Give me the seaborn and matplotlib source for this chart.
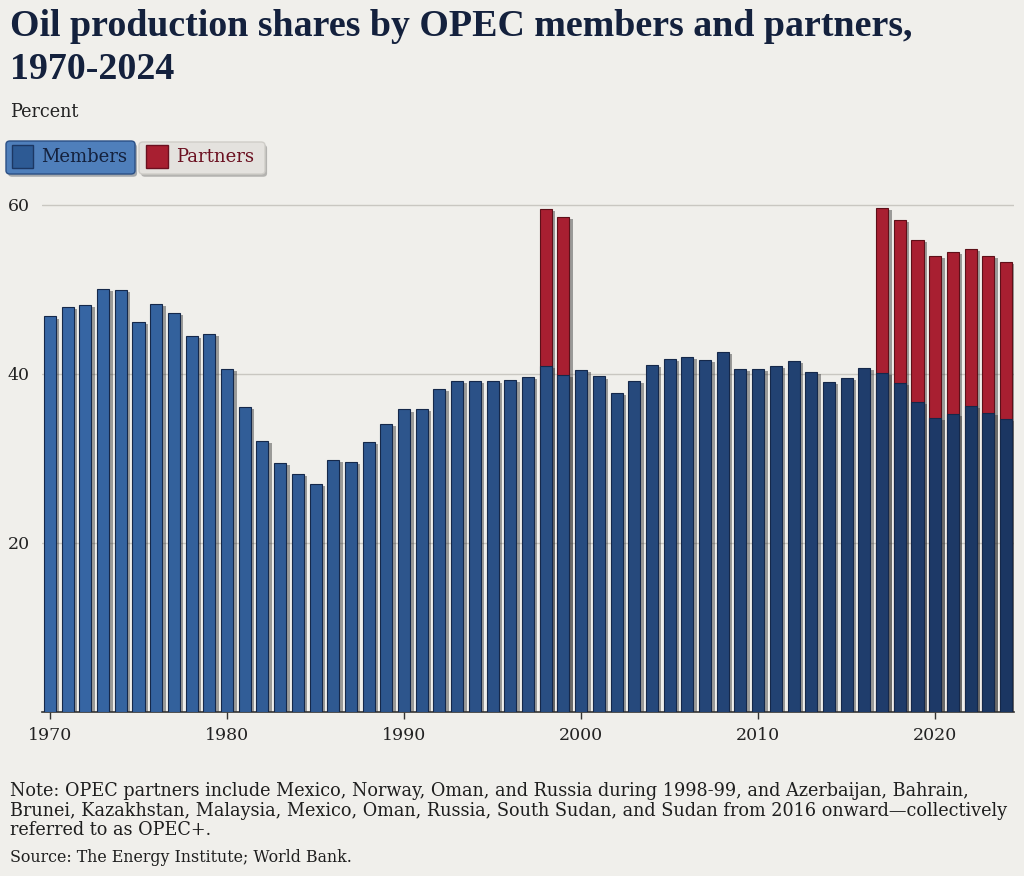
import numpy as np
import pandas as pd
import seaborn as sns
import matplotlib.pyplot as plt
from matplotlib.patches import FancyBboxPatch, Rectangle
import matplotlib.patheffects as pe

# data (percent of world oil production)
years = list(range(1970, 2025))
members = [46.8, 47.9, 48.2, 50.1, 49.9, 46.2, 48.3, 47.2, 44.5, 44.7,
           40.6, 36.1, 32.1, 29.5, 28.2, 27.0, 29.8, 29.6, 31.9, 34.1,
           35.8, 35.9, 38.2, 39.2, 39.2, 39.2, 39.3, 39.6, 40.9, 39.9,
           40.5, 39.7, 37.8, 39.2, 41.1, 41.8, 42.0, 41.6, 42.6, 40.6,
           40.6, 40.9, 41.5, 40.2, 39.1, 39.5, 40.7, 40.1, 38.9, 36.7,
           34.8, 35.3, 36.2, 35.4, 34.7]
partners = [0.0] * 28 + [18.6, 18.7] + [0.0] * 17 + [19.5, 19.3, 19.2, 19.2, 19.1, 18.6, 18.6, 18.6]

title = "Oil production shares by OPEC members and partners,\n1970-2024"
note = ("Note: OPEC partners include Mexico, Norway, Oman, and Russia during 1998-99, and Azerbaijan, Bahrain,\n"
        "Brunei, Kazakhstan, Malaysia, Mexico, Oman, Russia, South Sudan, and Sudan from 2016 onward\u2014collectively\n"
        "referred to as OPEC+.")
source = "Source: The Energy Institute; World Bank."

df = pd.DataFrame({"year": years, "members": members, "partners": partners})
df["total"] = df["members"] + df["partners"]
df["yr"] = df["year"].astype(str)

BG = "#f0efeb"
BLUE_L, BLUE_D = "#3767a5", "#1b3662"
RED = "#a81f31"
W, H = 1024, 876

sns.set_theme(style="white")
plt.rcParams["font.family"] = ["DejaVu Serif", "DejaVu Sans"]

fig = plt.figure(figsize=(W / 100, H / 100), dpi=100, facecolor=BG)
ax = fig.add_axes([42 / W, 1 - 712 / H, (1014 - 42) / W, (712 - 188) / H])
ax.set_facecolor(BG)

shadow = [pe.withSimplePatchShadow(offset=(2.5, -1.5), shadow_rgbFace="#333333", alpha=0.45)]

# partners stacked on top of members: draw totals first, members over them
sub = df[df["partners"] > 0]
sns.barplot(data=sub, x="year", y="total", native_scale=True, width=0.68, saturation=1,
            color=RED, edgecolor="#5e0f18", linewidth=0.8, ax=ax, zorder=2)
blues = sns.blend_palette([BLUE_L, BLUE_D], n_colors=len(df))
sns.barplot(data=df, x="year", y="members", hue="yr", palette=blues, legend=False,
            native_scale=True, width=0.68, saturation=1, edgecolor="#15284a", linewidth=0.8,
            ax=ax, zorder=3)
for p in ax.patches:
    p.set_path_effects(shadow)

ax.set_xlim(1969.55, 2024.45)
ax.set_ylim(0, 62)
ax.set_yticks([20, 40, 60])
ax.set_xticks(range(1970, 2021, 10))
ax.yaxis.grid(True, color="#c9c7c1", linewidth=1.0)
ax.set_axisbelow(True)
ax.set_xlabel("")
ax.set_ylabel("")
for s in ["top", "right", "left"]:
    ax.spines[s].set_visible(False)
ax.spines["bottom"].set_color("#333333")
ax.spines["bottom"].set_linewidth(1.2)
ax.tick_params(axis="y", length=0, pad=9, labelsize=12.5, labelcolor="#222222")
ax.tick_params(axis="x", length=5, width=1, color="#333333", pad=6,
               labelsize=12.5, labelcolor="#222222", bottom=True)

# texts
fig.text(10 / W, 1 - 9 / H, title, ha="left", va="top", fontsize=27.3,
         fontweight="bold", color="#14213d", linespacing=1.3,
         family=["Liberation Serif", "DejaVu Serif"])
fig.text(10 / W, 1 - 112 / H, "Percent", ha="left", va="center", fontsize=12.7, color="#222222")
fig.text(10 / W, 1 - 782 / H, note, ha="left", va="top", fontsize=12.7,
         color="#1e1e1e", linespacing=1.12)
fig.text(10 / W, 1 - 857 / H, source, ha="left", va="center", fontsize=11.4, color="#1e1e1e")


# legend boxes
def fbox(x0, y0, x1, y1, fc, ec, rad=4, z=5):
    b = FancyBboxPatch((x0 / W, 1 - y1 / H), (x1 - x0) / W, (y1 - y0) / H,
                       boxstyle=f"round,pad=0,rounding_size={rad / W}",
                       transform=fig.transFigure, fc=fc, ec=ec, lw=1, zorder=z,
                       path_effects=[pe.withSimplePatchShadow(offset=(1.5, -2), alpha=0.35)])
    fig.add_artist(b)


fbox(6, 141, 135, 174, "#4f7fbb", "#2a4f85")
fbox(139, 142, 265, 174, "#e4e2de", "#cfcdc8")
fig.add_artist(Rectangle((12 / W, 1 - 168 / H), 21 / W, 23 / H, transform=fig.transFigure,
                         fc="#2d5a94", ec="#1c3763", lw=1, zorder=6))
fig.add_artist(Rectangle((146 / W, 1 - 168 / H), 22 / W, 23 / H, transform=fig.transFigure,
                         fc=RED, ec="#6b1020", lw=1, zorder=6))
fig.text(41 / W, 1 - 157 / H, "Members", ha="left", va="center", fontsize=13,
         color="#14213d", zorder=7)
fig.text(176 / W, 1 - 157 / H, "Partners", ha="left", va="center", fontsize=13,
         color="#6b1020", zorder=7)

fig.savefig("out.png", dpi=100, facecolor=BG)
